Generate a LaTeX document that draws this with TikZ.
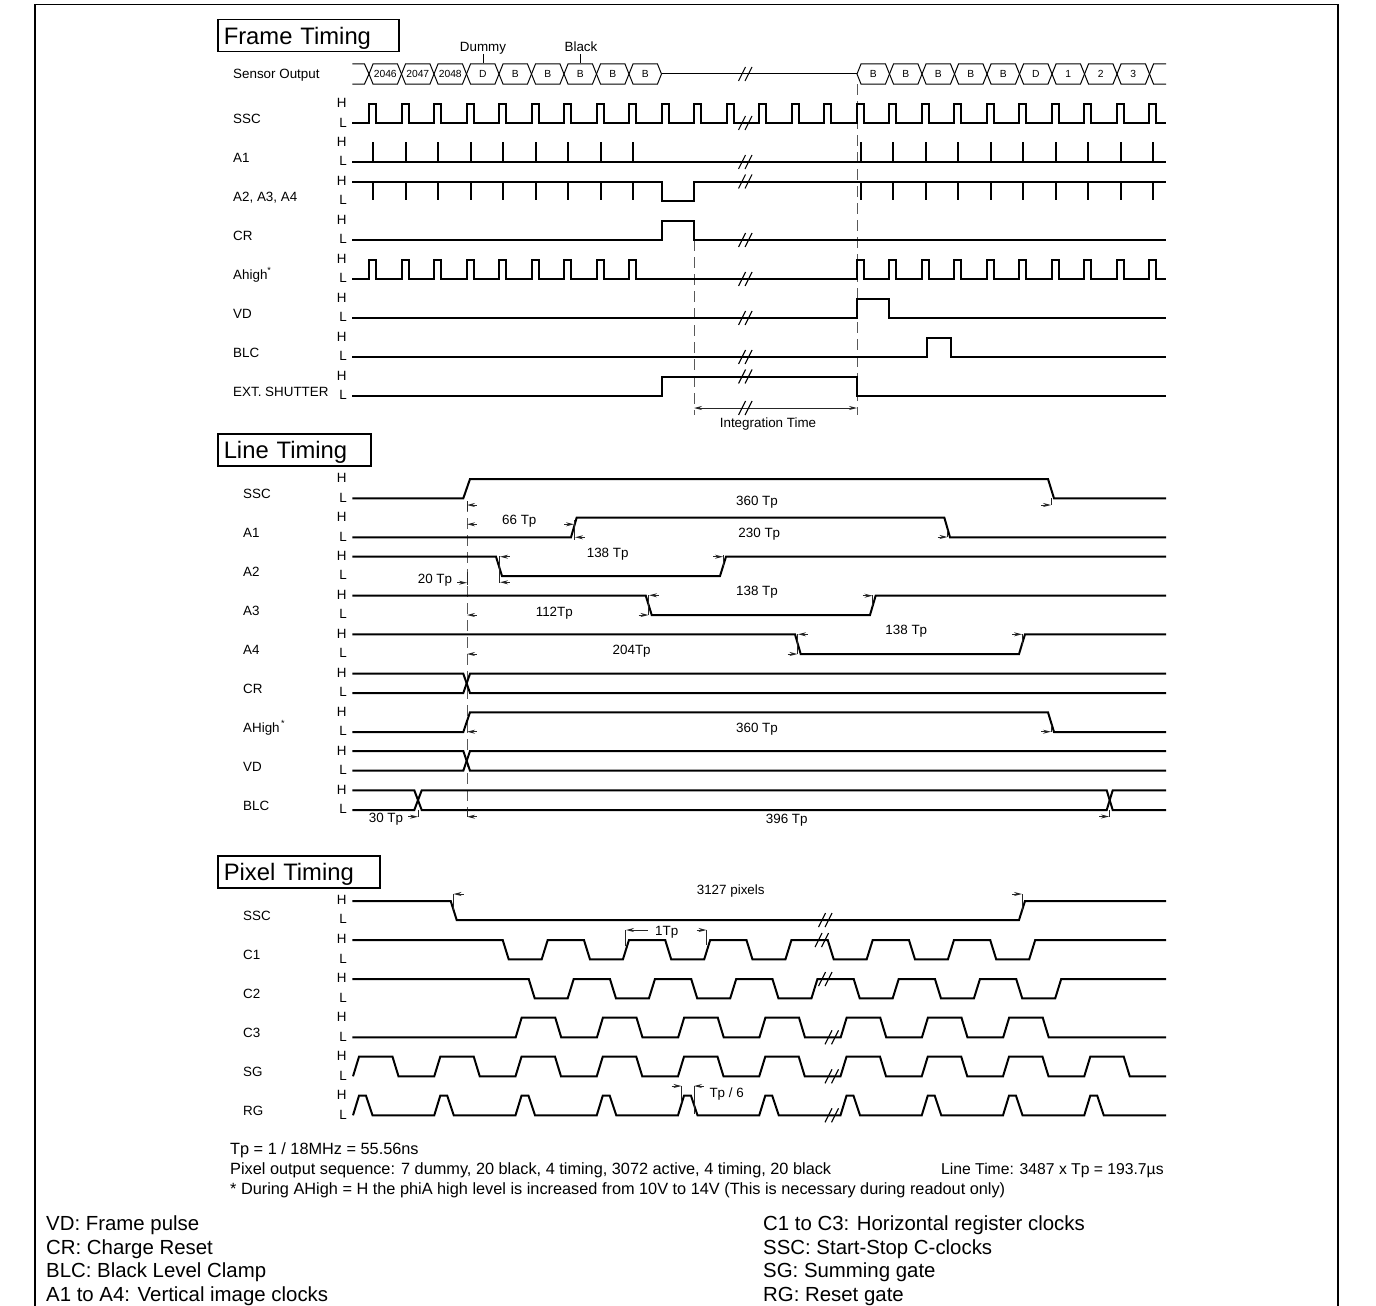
\documentclass[tikz,border=0pt]{standalone}
\usepackage{fontspec}
\setmainfont{Liberation Sans}
\usepackage{tikz}
\usetikzlibrary{positioning,calc,arrows.meta}

\tikzset{
    sigline/.style={line width=2pt, line join=miter, black},
    fineline/.style={line width=1pt, black},
    markline/.style={line width=1pt, black!85, >={Stealth[length=8pt,width=4pt]}},
    dashline/.style={line width=1pt, black!65, dash pattern=on 11pt off 6pt},
    slashline/.style={line width=1.1pt, black},
    rowlabel/.style={font=\fontsize{13.4}{15}\selectfont, anchor=west, inner sep=0pt, text height=9.6pt, text depth=0pt},
    hilabel/.style={font=\fontsize{13.4}{15}\selectfont, inner sep=0pt, text height=9.6pt, text depth=0pt},
    tplabel/.style={font=\fontsize{13.4}{15}\selectfont, inner sep=0pt, text height=9.6pt, text depth=0pt},
    hexlabel/.style={font=\fontsize{10.3}{12}\selectfont, inner sep=0pt, text height=7.4pt, text depth=0pt},
    titlebox/.style={draw, line width=1.5pt, anchor=north west, font=\fontsize{23.8}{26}\selectfont, align=left, inner sep=0pt, text height=17pt, text depth=0pt},
    notetext/.style={font=\fontsize{16.3}{18}\selectfont, anchor=west, inner sep=0pt, text height=11.7pt, text depth=0pt},
    keytext/.style={font=\fontsize{20.4}{23}\selectfont, anchor=west, inner sep=0pt, text height=14.6pt, text depth=0pt}
}

\newcommand{\rowtags}[4]{
    \node[rowlabel] (#1) at (#3,#4-4.5) {#2};
    \node[hilabel] (#1H) at (341.7,#4-20.5) {H};
    \node[hilabel] (#1L) at (343,#4-1) {L};
}
\newcommand{\slashes}[2]{
    \draw[slashline] (#1-8.5,#2+7) -- (#1-1.5,#2-7);
    \draw[slashline] (#1-2,#2+7) -- (#1+5,#2-7);
}
\newcommand{\markL}[2]{\draw[markline,<-] (#1,#2) -- ++(10,0);}
\newcommand{\markR}[2]{\draw[markline,->] (#1-10,#2) -- (#1,#2);}
\newcommand{\tick}[3]{\draw[markline] (#1,#2) -- (#1,#3);}

\begin{document}
\begin{tikzpicture}[x=1pt,y=-1pt]
    \useasboundingbox (0,0) rectangle (1376,1306);
    \draw[line width=1.5pt] (35,1306) -- (35,4.5) -- (1338,4.5) -- (1338,1306);

    \node[titlebox, minimum width=181pt, minimum height=32pt, text width=169pt] (frametitle) at (217,19) {Frame Timing};
    \node[titlebox, minimum width=153pt, minimum height=32pt, text width=141pt] (linetitle) at (217,433) {Line Timing};
    \node[titlebox, minimum width=162pt, minimum height=32pt, text width=150pt] (pixeltitle) at (217,855) {Pixel Timing};

    \node[rowlabel] (fsensor) at (233,74) {Sensor Output};
    \foreach \nm/\txt/\ly in {fssc/SSC/123.3, fa/A1/162, fb/{A2, A3, A4}/201, fcr/CR/240, fhi/{Ahigh\raisebox{6pt}{\fontsize{9}{9}\selectfont *}}/279, fvd/VD/318, fblc/BLC/357, fext/{EXT. SHUTTER}/396}
        {\rowtags{\nm}{\txt}{233}{\ly}}
    \foreach \nm/\txt/\ly in {lssc/SSC/498.3, la/A1/537.3, lb/A2/576, lc/A3/615, ld/A4/654, lcr/CR/693, lhi/{AHigh\raisebox{6pt}{\fontsize{9}{9}\selectfont\,*}}/732, lvd/VD/770.7, lblc/BLC/810}
        {\rowtags{\nm}{\txt}{243}{\ly}}
    \foreach \nm/\txt/\ly in {pssc/SSC/920, pa/C1/959.3, pb/C2/998.3, pc/C3/1037.3, psg/SG/1076.3, prg/RG/1115.3}
        {\rowtags{\nm}{\txt}{243}{\ly}}

    \draw[dashline] (857,84) -- (857,415);
    \draw[dashline] (694,240) -- (694,415);
    \draw[dashline] (467,501) -- (467,817);

    \draw[fineline] (352.3,64) -- (364.5,64) -- (369,74) -- (364.5,84) -- (352.3,84);
    \foreach \lab [count=\n from 0] in {2046,2047,2048,D,B,B,B,B,B} {
        \pgfmathsetmacro{\cx}{369+32.5*\n}
        \draw[fineline] (\cx,74) -- (\cx+4,64) -- (\cx+28.5,64) -- (\cx+32.5,74) -- (\cx+28.5,84) -- (\cx+4,84) -- cycle;
        \node[hexlabel] (lefthex\n) at (\cx+16.25,74) {\lab};
    }
    \draw[fineline] (661.5,74) -- (857,74);
    \foreach \lab [count=\n from 0] in {B,B,B,B,B,D,1,2,3} {
        \pgfmathsetmacro{\cx}{857+32.5*\n}
        \draw[fineline] (\cx,74) -- (\cx+4,64) -- (\cx+28.5,64) -- (\cx+32.5,74) -- (\cx+28.5,84) -- (\cx+4,84) -- cycle;
        \node[hexlabel] (righthex\n) at (\cx+16.25,74) {\lab};
    }
    \draw[fineline] (1166,64) -- (1153.5,64) -- (1149.5,74) -- (1153.5,84) -- (1166,84);
    \slashes{747}{74}

    \node[tplabel] (dummy) at (483,47) {Dummy};
    \draw[fineline] (483,54) -- (483,63);
    \node[tplabel] (black) at (581,47) {Black};
    \draw[fineline] (580,54) -- (580,63);

    \draw[sigline] (352.3,123.3) \foreach \k in {0,...,24} {-- ({369+32.5*\k},123.3) -- ++(0,-19.5) -- ++(7,0) -- ++(0,19.5)} -- (1166,123.3);
    \draw[sigline] (352.3,162) -- (1166,162);
    \foreach \k in {0,...,8,15,16,...,24}
        \draw[sigline] ({373+32.5*\k},142) -- ({373+32.5*\k},162);
    \draw[sigline] (352.3,181.5) -- (661.7,181.5) -- (661.7,201) -- (694,201) -- (694,181.5) -- (1166,181.5);
    \foreach \k in {0,...,8,15,16,...,24}
        \draw[sigline] ({373+32.5*\k},181.5) -- ({373+32.5*\k},200);
    \draw[sigline] (352.3,240) -- (661.7,240) -- (661.7,220.5) -- (694,220.5) -- (694,240) -- (1166,240);
    \draw[sigline] (352.3,279) \foreach \k in {0,...,8,15,16,...,24} {-- ({369+32.5*\k},279) -- ++(0,-19.5) -- ++(7,0) -- ++(0,19.5)} -- (1166,279);
    \draw[sigline] (352.3,318) -- (857,318) -- (857,298.5) -- (889,298.5) -- (889,318) -- (1166,318);
    \draw[sigline] (352.3,357) -- (927,357) -- (927,337.5) -- (951,337.5) -- (951,357) -- (1166,357);
    \draw[sigline] (352.3,396) -- (661.7,396) -- (661.7,376.5) -- (857,376.5) -- (857,396) -- (1166,396);
    \foreach \y in {123,162,181.5,240,279,318,357,376.5}
        {\slashes{747}{\y}}

    \draw[markline,<->] (694,408) -- (857,408);
    \slashes{747}{408}
    \node[tplabel] (integration) at (768,423) {Integration Time};

    \draw[sigline] (352.3,498.3) -- (463.3,498.3) -- (470,479) -- (1048,479) -- (1054,498.3) -- (1166,498.3);
    \draw[sigline] (352.3,537.3) -- (571,537.3) -- (576.7,517.5) -- (944.3,517.5) -- (950,537.3) -- (1166,537.3);
    \draw[sigline] (352.3,556.7) -- (496,556.7) -- (502,576) -- (720,576) -- (726,556.7) -- (1166,556.7);
    \draw[sigline] (352.3,595.5) -- (645.7,595.5) -- (651.7,615) -- (870,615) -- (875.7,595.5) -- (1166,595.5);
    \draw[sigline] (352.3,634.3) -- (795,634.3) -- (800.7,654) -- (1019,654) -- (1025,634.3) -- (1166,634.3);
    \foreach \hy/\ly in {673.7/693,751/770.7} {
        \draw[sigline] (352.3,\hy) -- (463.3,\hy) -- (470,\ly) -- (1166,\ly);
        \draw[sigline] (352.3,\ly) -- (463.3,\ly) -- (470,\hy) -- (1166,\hy);
    }
    \draw[sigline] (352.3,732) -- (463.3,732) -- (470,712.3) -- (1048,712.3) -- (1054,732) -- (1166,732);
    \draw[sigline] (352.3,790.3) -- (414.3,790.3) -- (421.7,810) -- (1106.7,810) -- (1112.7,790.3) -- (1166,790.3);
    \draw[sigline] (352.3,810) -- (414.3,810) -- (421.7,790.3) -- (1106.7,790.3) -- (1112.7,810) -- (1166,810);

    \tick{467}{501}{511}
    \markL{467}{505}
    \markL{467}{524.3}
    \markR{574}{524.3}
    \tick{574}{520}{540}
    \markL{575}{537.3}
    \tick{499.3}{556}{583}
    \markL{500}{556.7}
    \markL{500}{582.3}
    \tick{467.3}{572}{585}
    \markR{467}{582.7}
    \tick{723.3}{555}{566}
    \markR{723}{556.7}
    \tick{648.7}{595}{615}
    \markL{649}{595.3}
    \markR{648.5}{615}
    \markL{467}{615}
    \tick{872.7}{595}{606}
    \markR{872.5}{595.7}
    \markL{467}{654}
    \tick{797.7}{634}{654}
    \markL{798}{634.3}
    \markR{797.5}{654}
    \tick{1022.3}{634}{645}
    \markR{1022}{634.3}
    \tick{1051}{498}{505}
    \markR{1051}{505}
    \tick{947.7}{530}{537}
    \markR{947.5}{537}
    \markL{467}{731.7}
    \tick{1051}{725}{732}
    \markR{1051}{731.7}
    \tick{418.3}{810}{817}
    \markR{418}{816.7}
    \tick{467}{810}{817}
    \markL{467}{816.7}
    \tick{1109.3}{810}{817}
    \markR{1109}{816.5}

    \node[tplabel] (sscspan) at (757,501) {360 Tp};
    \node[tplabel] (aonestart) at (519.3,520) {66 Tp};
    \node[tplabel] (aonespan) at (759.3,532.7) {230 Tp};
    \node[tplabel] (atwospan) at (607.7,552.7) {138 Tp};
    \node[tplabel] (atwostart) at (435,578.3) {20 Tp};
    \node[tplabel] (athreespan) at (757,590.7) {138 Tp};
    \node[tplabel] (athreestart) at (554.3,611.7) {112Tp};
    \node[tplabel] (afourspan) at (906.3,630) {138 Tp};
    \node[tplabel] (afourstart) at (631.7,650) {204Tp};
    \node[tplabel] (ahighspan) at (757,727.7) {360 Tp};
    \node[tplabel] (blcstart) at (386,817.3) {30 Tp};
    \node[tplabel] (blcspan) at (786.7,819) {396 Tp};

    \draw[sigline] (352.3,901) -- (450.7,901) -- (456.7,920) -- (1019,920) -- (1025,901) -- (1166,901);
    \draw[sigline] (352.3,940) \foreach \k in {0,...,6} {-- ({502.7+81.25*\k},940) -- ++(6,19.3) -- ++(33,0) -- ++(6,-19.3)} -- (1166,940);
    \draw[sigline] (352.3,979) \foreach \k in {0,...,6} {-- ({528.7+81.25*\k},979) -- ++(6,19.3) -- ++(33,0) -- ++(6,-19.3)} -- (1166,979);
    \draw[sigline] (352.3,1037.3) \foreach \k in {0,...,6} {-- ({515.7+81.25*\k},1037.3) -- ++(6,-19.8) -- ++(33.5,0) -- ++(6,19.8)} -- (1166,1037.3);
    \draw[sigline] (353,1076.3) \foreach \k in {0,...,9} {-- ({353+81.25*\k},1076.3) -- ++(6,-19.6) -- ++(33.5,0) -- ++(6,19.6)} -- (1166,1076.3);
    \draw[sigline] (353,1115.3) \foreach \k in {0,...,9} {-- ({353+81.25*\k},1115.3) -- ++(6,-19.6) -- ++(7,0) -- ++(6.5,19.6)} -- (1166,1115.3);
    \slashes{827}{920}
    \slashes{823.5}{940}
    \slashes{827}{979}
    \foreach \y in {1037.3,1076.3,1115.3}
        {\slashes{833.5}{\y}}

    \tick{453.3}{894}{910}
    \markL{453.5}{894}
    \tick{1022.3}{894}{910}
    \markR{1022}{894}
    \tick{625.7}{930}{946}
    \markL{626}{930}
    \draw[markline] (636,930) -- (648,930);
    \tick{706.7}{930}{945}
    \markR{706.5}{930}
    \tick{681.7}{1086}{1103}
    \markR{681.5}{1086}
    \tick{694}{1086}{1114}
    \markL{694}{1086}

    \node[tplabel] (pixelspan) at (730.7,890) {3127 pixels};
    \node[tplabel] (onetp) at (666.7,931) {1Tp};
    \node[tplabel, anchor=west] (tpsix) at (709.3,1092.7) {Tp / 6};

    \node[notetext] (noteone) at (230,1148.7) {Tp = 1 / 18MHz = 55.56ns};
    \node[notetext] (notetwo) at (230,1168.5) {Pixel output sequence: 7 dummy, 20 black, 4 timing, 3072 active, 4 timing, 20 black};
    \node[notetext] (notethree) at (230,1188.5) {* During AHigh = H the phiA high level is increased from 10V to 14V (This is necessary during readout only)};
    \node[notetext, font=\fontsize{15.7}{18}\selectfont] (linetime) at (941,1168.5) {Line Time: 3487 x Tp = 193.7µs};

    \node[keytext] (keyvd) at (46,1223) {VD: Frame pulse};
    \node[keytext] (keycr) at (46,1247) {CR: Charge Reset};
    \node[keytext] (keyblc) at (46,1270.5) {BLC: Black Level Clamp};
    \node[keytext] (keya) at (46,1294) {A1 to A4: Vertical image clocks};
    \node[keytext] (keyc) at (763,1223) {C1 to C3: Horizontal register clocks};
    \node[keytext] (keyssc) at (763,1247) {SSC: Start-Stop C-clocks};
    \node[keytext] (keysg) at (763,1270.5) {SG: Summing gate};
    \node[keytext] (keyrg) at (763,1294) {RG: Reset gate};
\end{tikzpicture}
\end{document}
